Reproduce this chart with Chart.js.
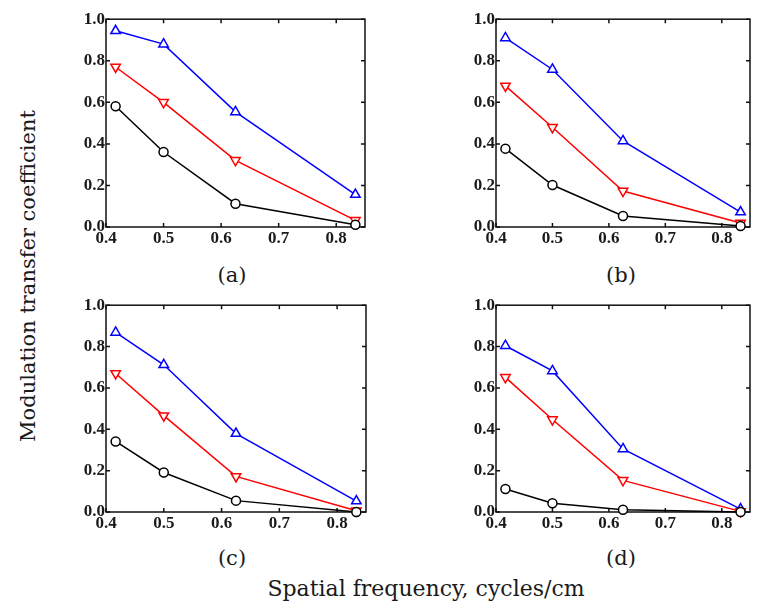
<!DOCTYPE html>
<html lang="en">
<head>
<meta charset="UTF-8">
<title>Modulation transfer coefficient</title>
<script src="https://cdn.jsdelivr.net/npm/chart.js@4.4.0/dist/chart.umd.min.js"></script>
<style>
  body { margin: 0; background: #fff; overflow: hidden; }
  #page { position: relative; width: 757px; height: 603px; font-family: 'DejaVu Serif', serif; color: #1a1a1a; }
  canvas { position: absolute; }
  .lbl { position: absolute; font-size: 21px; transform: translate(-50%, -50%); white-space: nowrap; }
  #xtitle { font-size: 22px; }
  #ytitle { transform: translate(-50%, -50%) rotate(-90deg); }
</style>
</head>
<body>
<div id="page">
  <canvas id="ca"></canvas>
  <canvas id="cb"></canvas>
  <canvas id="cc"></canvas>
  <canvas id="cd"></canvas>
  <div class="lbl" style="left:232px; top:275px">(a)</div>
  <div class="lbl" style="left:621px; top:275px">(b)</div>
  <div class="lbl" style="left:232px; top:558px">(c)</div>
  <div class="lbl" style="left:621px; top:558px">(d)</div>
  <div class="lbl" id="xtitle" style="left:426px; top:588px">Spatial frequency, cycles/cm</div>
  <div class="lbl" id="ytitle" style="left:28px; top:276px">Modulation transfer coefficient</div>
</div>
<script>
  // spatial frequencies (cycles/cm) and tick labels
  const freq = [0.4167, 0.5, 0.625, 0.8333];
  const xTicks = [0.4, 0.5, 0.6, 0.7, 0.8];
  const yTicks = [0.0, 0.2, 0.4, 0.6, 0.8, 1.0];

  // panel (a)
  const blueA  = [0.944, 0.88, 0.554, 0.156];
  const redA   = [0.77, 0.60, 0.321, 0.032];
  const blackA = [0.581, 0.361, 0.112, 0.011];
  // panel (b)
  const blueB  = [0.91, 0.758, 0.414, 0.072];
  const redB   = [0.679, 0.48, 0.173, 0.019];
  const blackB = [0.377, 0.202, 0.053, 0.005];
  // panel (c)
  const blueC  = [0.868, 0.712, 0.379, 0.053];
  const redC   = [0.67, 0.466, 0.172, 0.006];
  const blackC = [0.341, 0.191, 0.055, 0.0];
  // panel (d)
  const blueD  = [0.804, 0.682, 0.305, 0.014];
  const redD   = [0.651, 0.447, 0.153, 0.003];
  const blackD = [0.111, 0.042, 0.011, 0.0];

  const tickFont = { family: 'Liberation Serif', weight: 'bold', size: 17 };

  // frame box with inward ticks on all four sides
  const framePlugin = {
    id: 'frame',
    beforeDatasetsDraw(chart) {
      const { ctx, chartArea, scales } = chart;
      const { left, right, top, bottom } = chartArea;
      ctx.save();
      ctx.strokeStyle = '#111';
      ctx.lineWidth = 1.5;
      ctx.strokeRect(left, top, right - left, bottom - top);
      ctx.beginPath();
      xTicks.forEach(v => {
        const px = scales.x.getPixelForValue(v);
        ctx.moveTo(px, bottom); ctx.lineTo(px, bottom - 4);
        ctx.moveTo(px, top); ctx.lineTo(px, top + 4);
      });
      yTicks.forEach(v => {
        const py = scales.y.getPixelForValue(v);
        ctx.moveTo(left, py); ctx.lineTo(left + 4, py);
        ctx.moveTo(right, py); ctx.lineTo(right - 4, py);
      });
      ctx.stroke();
      ctx.restore();
    }
  };

  function series(vals, color, style, rot, r) {
    return {
      data: freq.map((f, i) => ({ x: f, y: vals[i] })),
      borderColor: color,
      borderWidth: 1.5,
      pointStyle: style,
      rotation: rot,
      pointRadius: r,
      pointBorderWidth: 1.5,
      pointBorderColor: color,
      pointBackgroundColor: '#fff',
      tension: 0,
      clip: false
    };
  }

  function makeChart(id, box, blue, red, black) {
    const cv = document.getElementById(id);
    cv.width = box.w; cv.height = box.h;
    cv.style.left = box.l + 'px'; cv.style.top = box.t + 'px';
    cv.style.width = box.w + 'px'; cv.style.height = box.h + 'px';
    new Chart(cv, {
      type: 'line',
      data: {
        datasets: [
          series(black, '#000', 'circle', 0, 4.5),
          series(red, '#ff0000', 'triangle', 180, 5.5),
          series(blue, '#0000ff', 'triangle', 0, 5.5)
        ]
      },
      options: {
        responsive: false,
        animation: false,
        events: [],
        layout: { padding: { top: 11, right: 3, left: 0, bottom: 0 } },
        plugins: { legend: { display: false }, tooltip: { enabled: false } },
        scales: {
          x: {
            type: 'linear', min: 0.4, max: 0.85,
            afterBuildTicks: s => { s.ticks = xTicks.map(v => ({ value: v })); },
            afterFit: s => { s.height = 30; },
            grid: { display: false, drawTicks: false },
            border: { display: false },
            ticks: { padding: 1, color: '#1a1a1a', font: tickFont, callback: v => v.toFixed(1) }
          },
          y: {
            type: 'linear', min: 0, max: 1,
            afterBuildTicks: s => { s.ticks = yTicks.map(v => ({ value: v })); },
            afterFit: s => { s.width = 40; },
            grid: { display: false, drawTicks: false },
            border: { display: false },
            ticks: { padding: 1, color: '#1a1a1a', font: tickFont, callback: v => v.toFixed(1) }
          }
        }
      },
      plugins: [framePlugin]
    });
  }

  makeChart('ca', { l: 66, t: 8, w: 306, h: 249 }, blueA, redA, blackA);
  makeChart('cb', { l: 456, t: 8, w: 301, h: 249 }, blueB, redB, blackB);
  makeChart('cc', { l: 66, t: 294, w: 307, h: 248 }, blueC, redC, blackC);
  makeChart('cd', { l: 456, t: 294, w: 301, h: 248 }, blueD, redD, blackD);
</script>
</body>
</html>
